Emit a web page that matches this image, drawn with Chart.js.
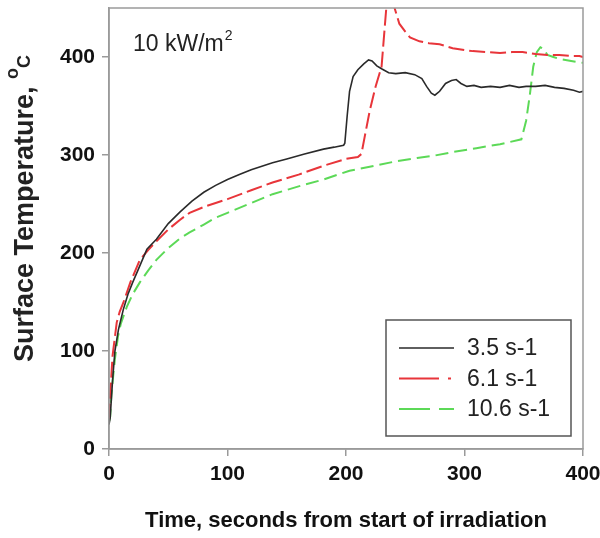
<!DOCTYPE html>
<html>
<head>
<meta charset="utf-8">
<script src="https://cdn.jsdelivr.net/npm/chart.js@4/dist/chart.umd.min.js"></script>
<style>
  html, body { margin: 0; padding: 0; background: #fff; }
  canvas { display: block; }
</style>
</head>
<body>
<canvas id="tempChart" width="600" height="538"></canvas>
<script>
'use strict';

// series: time (s) and surface temperature (C)
const seriesLabels = ['3.5 s-1', '6.1 s-1', '10.6 s-1'];

const time35 = [0, 1, 3, 5, 8, 12, 16, 20, 25, 32, 40, 50, 60, 70, 80, 90, 100, 110, 120, 138, 150, 165, 181, 190, 198,
  199, 201, 203, 206, 210, 215, 219, 222, 226, 230, 236, 242, 250, 258, 264, 268, 272, 275, 279, 284, 289, 293, 297,
  302, 308, 314, 322, 330, 338, 346, 352, 360, 368, 376, 384, 392, 397, 400];
const temp35 = [25, 32, 70, 100, 122, 142, 158, 170, 184, 204, 214, 230, 242, 253, 262, 269, 275, 280, 285, 292, 296, 301, 306, 308, 310,
  312, 340, 365, 380, 387, 393, 397, 396, 391, 388, 384, 383, 384, 382, 378, 370, 363, 361, 365, 373, 376, 377, 373,
  370, 371, 369, 370, 369, 371, 369, 370, 370, 371, 369, 368, 366, 364, 365];

const time61 = [0, 1, 3, 6.5, 9, 12, 18, 26, 33, 40, 50, 60, 68, 80, 90, 100, 120, 138, 160, 181, 200, 210, 213,
  216, 220, 225, 230, 234, 237, 241, 245, 250, 254, 262, 270, 279, 290, 300, 307, 320, 330, 340, 349, 360, 370, 380, 390, 397, 400];
const temp61 = [30, 55, 95, 129, 140, 149, 170, 193, 203, 212, 224, 234, 241, 247, 251, 255, 264, 272, 280, 289, 296, 298, 301,
  320, 345, 370, 390, 450, 478, 450, 434, 426, 420, 416, 414, 413, 409, 407, 406, 405, 404, 405, 405, 403, 402, 402, 401, 401, 400];

const time106 = [0, 1, 2, 3.5, 5, 7.6, 10, 15, 20, 26, 33, 40, 50, 60, 68, 80, 90, 100, 120, 138, 160, 181, 203,
  220, 240, 260, 273, 290, 310, 330, 348, 352, 355, 358, 361, 364, 367, 370, 375, 380, 390, 400];
const temp106 = [28, 33, 55, 74, 92, 115, 128, 145, 158, 170, 182, 193, 205, 215, 221, 229, 236, 241, 251, 260, 268, 275, 284,
  288, 293, 297, 299, 303, 307, 311, 316, 335, 360, 390, 405, 410, 408, 402, 400, 398, 396, 394];

const xTicks = [0, 100, 200, 300, 400];
const yTicks = [0, 100, 200, 300, 400];

const FONT = '"Liberation Sans", Arial, sans-serif';

function toPoints(xs, ys) {
  return xs.map((x, i) => ({ x: x, y: ys[i] }));
}

// frame, y title, heat flux note and boxed legend
const decorations = {
  id: 'decorations',
  afterDatasetsDraw(chart) {
    const ctx = chart.ctx;
    const area = chart.chartArea;
    ctx.save();

    ctx.strokeStyle = '#9a9a9a';
    ctx.lineWidth = 1.5;
    ctx.strokeRect(area.left, area.top, area.right - area.left, area.bottom - area.top);

    // 10 kW/m2
    ctx.fillStyle = '#222';
    ctx.textBaseline = 'alphabetic';
    ctx.textAlign = 'left';
    ctx.font = '23px ' + FONT;
    const note = '10 kW/m';
    ctx.fillText(note, 133, 51);
    const nw = ctx.measureText(note).width;
    ctx.font = '14px ' + FONT;
    ctx.fillText('2', 133 + nw + 1, 40);

    // y axis title with raised o
    ctx.translate(33, 362);
    ctx.rotate(-Math.PI / 2);
    ctx.font = 'bold 27px ' + FONT;
    const yt = 'Surface Temperature, ';
    ctx.fillText(yt, 0, 0);
    let w = ctx.measureText(yt).width;
    ctx.font = 'bold 18px ' + FONT;
    ctx.fillText('o', w, -15);
    w += ctx.measureText('o').width;
    ctx.fillText('C', w, -3);
    ctx.setTransform(1, 0, 0, 1, 0, 0);

    // legend
    const box = { x: 386, y: 320, w: 185, h: 116 };
    ctx.fillStyle = '#fff';
    ctx.fillRect(box.x, box.y, box.w, box.h);
    ctx.strokeStyle = '#555';
    ctx.lineWidth = 1.5;
    ctx.strokeRect(box.x, box.y, box.w, box.h);

    ctx.font = '23px ' + FONT;
    ctx.textBaseline = 'middle';
    chart.data.datasets.forEach((ds, i) => {
      const y = box.y + 28 + i * 30.5;
      ctx.beginPath();
      ctx.setLineDash(ds.legendDash || []);
      ctx.strokeStyle = ds.borderColor;
      ctx.lineWidth = ds.borderWidth;
      ctx.moveTo(box.x + 13, y);
      ctx.lineTo(box.x + 68, y);
      ctx.stroke();
      ctx.setLineDash([]);
      ctx.fillStyle = '#222';
      ctx.fillText(ds.label, box.x + 81, y + 1);
    });

    ctx.restore();
  }
};

const ctx = document.getElementById('tempChart').getContext('2d');

new Chart(ctx, {
  type: 'line',
  data: {
    datasets: [
      {
        label: seriesLabels[0],
        data: toPoints(time35, temp35),
        borderColor: '#2a2a2a',
        borderWidth: 1.6,
        legendDash: []
      },
      {
        label: seriesLabels[1],
        data: toPoints(time61, temp61),
        borderColor: '#e8353a',
        borderWidth: 2,
        borderDash: [16, 5],
        legendDash: [40, 9, 3, 9]
      },
      {
        label: seriesLabels[2],
        data: toPoints(time106, temp106),
        borderColor: '#5cd957',
        borderWidth: 2,
        borderDash: [13, 6],
        legendDash: [31, 9, 15, 9]
      }
    ]
  },
  options: {
    responsive: false,
    animation: false,
    devicePixelRatio: 1,
    layout: { padding: { top: 8, right: 17, left: 0, bottom: 0 } },
    elements: {
      point: { radius: 0 },
      line: { tension: 0, fill: false }
    },
    plugins: {
      legend: { display: false },
      tooltip: { enabled: false }
    },
    scales: {
      x: {
        type: 'linear',
        min: 0,
        max: 400,
        afterFit: s => { s.height = 89; s.paddingLeft = 0; s.paddingRight = 0; },
        afterBuildTicks: s => { s.ticks = xTicks.map(v => ({ value: v })); },
        grid: { drawOnChartArea: false, tickLength: 7, color: '#9a9a9a', lineWidth: 1.5 },
        border: { color: '#9a9a9a', width: 1.5 },
        ticks: { color: '#111', padding: 6, maxRotation: 0, font: { family: FONT, size: 21, weight: 'bold' } },
        title: {
          display: true,
          text: 'Time, seconds from start of irradiation',
          color: '#111',
          padding: { top: 0, bottom: 4 },
          font: { family: FONT, size: 22, weight: 'bold' }
        }
      },
      y: {
        type: 'linear',
        min: 0,
        max: 450,
        afterFit: s => { s.width = 109; s.paddingTop = 0; s.paddingBottom = 0; },
        afterBuildTicks: s => { s.ticks = yTicks.map(v => ({ value: v })); },
        grid: { drawOnChartArea: false, tickLength: 7, color: '#9a9a9a', lineWidth: 1.5 },
        border: { color: '#9a9a9a', width: 1.5 },
        ticks: { color: '#111', padding: 7, font: { family: FONT, size: 21, weight: 'bold' } }
      }
    }
  },
  plugins: [decorations]
});
</script>
</body>
</html>
